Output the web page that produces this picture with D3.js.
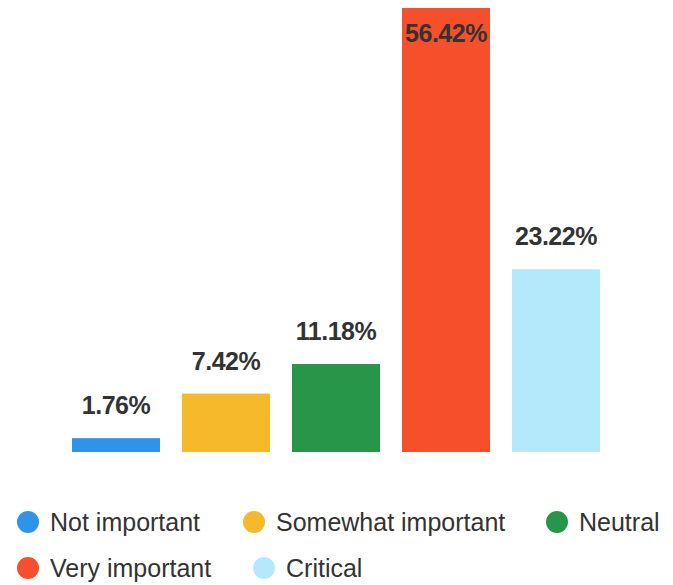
<!DOCTYPE html>
<html>
<head>
<meta charset="utf-8">
<script src="https://d3js.org/d3.v7.min.js"></script>
<style>
  body { margin: 0; background: #fff; }
  svg { display: block; }
</style>
</head>
<body>
<div id="chart"></div>
<script>
// data
var categories = ["Not important", "Somewhat important", "Neutral", "Very important", "Critical"];
var values = [1.76, 7.42, 11.18, 56.42, 23.22];
var colors = ["#2e93e9", "#f5b92b", "#279648", "#f5502b", "#b3e9fb"];

var width = 673, height = 585;
var baseY = 452, topY = 8;

var svg = d3.select("#chart").append("svg")
    .attr("width", width)
    .attr("height", height);

var x = d3.scaleBand()
    .domain(categories)
    .range([61, 611])
    .paddingInner(0.2)
    .paddingOuter(0.1);

var y = d3.scaleLinear()
    .domain([0, d3.max(values)])
    .range([baseY, topY]);

var rows = categories.map(function(c, i) { return {cat: c, value: values[i], color: colors[i]}; });

// bars
svg.append("g").selectAll("rect")
  .data(rows)
  .enter().append("rect")
    .attr("x", function(d) { return x(d.cat); })
    .attr("y", function(d) { return y(d.value); })
    .attr("width", x.bandwidth())
    .attr("height", function(d) { return baseY - y(d.value); })
    .attr("fill", function(d) { return d.color; });

// value labels (inside the bar when it reaches the top)
svg.append("g").selectAll("text")
  .data(rows)
  .enter().append("text")
    .attr("x", function(d) { return x(d.cat) + x.bandwidth() / 2; })
    .attr("y", function(d) {
      var yt = y(d.value);
      return yt - 24 < 20 ? yt + 34 : yt - 24;
    })
    .attr("text-anchor", "middle")
    .style("font-family", "'Liberation Sans', Arial, sans-serif")
    .style("font-weight", "bold")
    .style("font-size", "25px")
    .style("letter-spacing", "-0.5px")
    .style("fill", "#333")
    .text(function(d) { return d.value.toFixed(2) + "%"; });

// legend, two rows like the original
var legendPos = [[28, 522], [254, 522], [557, 522], [28, 568], [264, 568]];
var legend = svg.append("g").selectAll("g")
  .data(rows)
  .enter().append("g")
    .attr("transform", function(d, i) { return "translate(" + legendPos[i][0] + "," + legendPos[i][1] + ")"; });

legend.append("circle")
    .attr("r", 11)
    .attr("fill", function(d) { return d.color; });

legend.append("text")
    .attr("x", 22)
    .attr("y", 9)
    .style("font-family", "'Liberation Sans', Arial, sans-serif")
    .style("font-size", "25px")
    .style("fill", "#333")
    .text(function(d) { return d.cat; });
</script>
</body>
</html>
